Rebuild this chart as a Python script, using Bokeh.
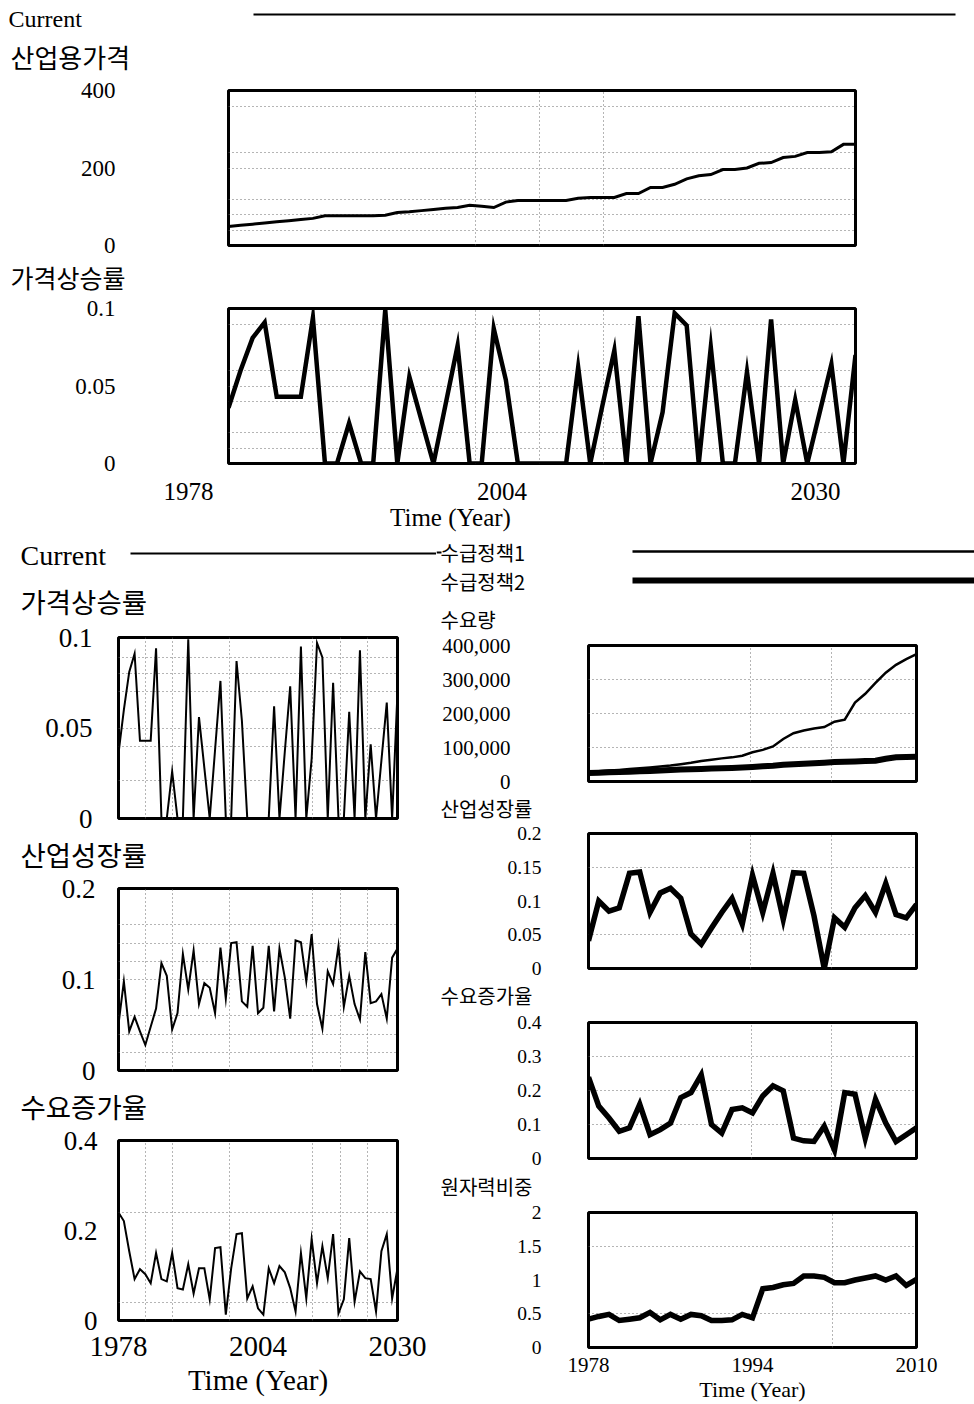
from bokeh.plotting import figure
from bokeh.models import (Range1d, FixedTicker, Label, LabelSet, ColumnDataSource,
                          BoxAnnotation, NumeralTickFormatter, LinearAxis, Grid)
from bokeh.layouts import column, row
from bokeh.embed import file_html
from bokeh.resources import INLINE
from bokeh.core.properties import value

SERIF = "Liberation Serif"
KR = "Noto Sans CJK KR"

# ---------------- data ----------------
years_long = list(range(1978, 2031))
years_short = list(range(1978, 2011))

price = [49, 52, 55, 58, 61, 64, 67, 70, 77, 77,
         77, 77, 77, 78, 85, 87, 90, 93, 96, 98,
         104, 101, 98, 112, 116, 116, 116, 116, 116, 122,
         124, 124, 124, 134, 134, 150, 150, 158, 172, 180,
         183, 196, 196, 200, 212, 214, 227, 230, 240, 240,
         242, 261, 261]

price_rate = [0.036, 0.060, 0.081, 0.091, 0.043, 0.043, 0.043, 0.094, 0.0, 0.0,
              0.026, 0.0, 0.0, 0.099, 0.0, 0.056, 0.028, 0.0, 0.038, 0.076,
              0.0, 0.0, 0.087, 0.054, 0.0, 0.0, 0.0, 0.0, 0.0, 0.062,
              0.0, 0.037, 0.073, 0.0, 0.095, 0.0, 0.033, 0.097, 0.089, 0.0,
              0.075, 0.0, 0.0, 0.059, 0.0, 0.093, 0.0, 0.041, 0.0, 0.032,
              0.064, 0.0, 0.07]

growth_long = [0.051, 0.098, 0.043, 0.059, 0.043, 0.028, 0.048, 0.068, 0.118, 0.104,
               0.045, 0.063, 0.128, 0.089, 0.132, 0.073, 0.096, 0.091, 0.063, 0.135,
               0.079, 0.14, 0.141, 0.076, 0.07, 0.137, 0.063, 0.069, 0.137, 0.065,
               0.134, 0.102, 0.057, 0.143, 0.141, 0.098, 0.15, 0.073, 0.046, 0.109,
               0.095, 0.137, 0.07, 0.104, 0.073, 0.056, 0.13, 0.074, 0.076, 0.084,
               0.057, 0.124, 0.134]

demand_rate_long = [0.24, 0.221, 0.154, 0.092, 0.114, 0.103, 0.083, 0.15, 0.092, 0.087,
                    0.15, 0.072, 0.069, 0.125, 0.06, 0.116, 0.116, 0.047, 0.161, 0.163,
                    0.013, 0.116, 0.192, 0.194, 0.049, 0.076, 0.027, 0.013, 0.116, 0.083,
                    0.121, 0.107, 0.072, 0.02, 0.15, 0.049, 0.181, 0.083, 0.165, 0.094,
                    0.192, 0.016, 0.047, 0.183, 0.042, 0.109, 0.094, 0.092, 0.02, 0.154,
                    0.192, 0.049, 0.116]

demand_policy1 = [28000, 30000, 32000, 34000, 36500, 39000, 41500, 44000, 47000, 51000,
                  55000, 60000, 64000, 68000, 71000, 76000, 86000, 93000, 103000, 125000,
                  142000, 150000, 156000, 160000, 176000, 182000, 232000, 258000, 290000, 320000,
                  343000, 360000, 375000]

demand_policy2 = [25000, 26000, 27000, 28000, 29000, 30000, 31000, 32000, 33500, 35000,
                  36000, 37000, 38000, 39000, 40000, 41500, 43000, 44500, 46000, 49000,
                  51000, 52500, 54000, 55500, 57000, 58000, 59000, 60000, 61000, 67000,
                  71000, 72000, 73000]

growth_short = [0.041, 0.1, 0.085, 0.09, 0.141, 0.143, 0.083, 0.112, 0.119, 0.104,
                0.051, 0.036, 0.06, 0.083, 0.104, 0.066, 0.138, 0.083, 0.141, 0.073,
                0.142, 0.141, 0.078, 0.0, 0.075, 0.061, 0.09, 0.108, 0.083, 0.126,
                0.08, 0.075, 0.095]

demand_rate_short = [0.239, 0.154, 0.119, 0.08, 0.09, 0.159, 0.07, 0.085, 0.104, 0.179,
                     0.194, 0.246, 0.1, 0.075, 0.144, 0.149, 0.134, 0.184, 0.214, 0.199,
                     0.06, 0.052, 0.05, 0.095, 0.025, 0.194, 0.189, 0.06, 0.174, 0.104,
                     0.05, 0.07, 0.09]

nuclear_share = [0.42, 0.46, 0.49, 0.40, 0.42, 0.44, 0.52, 0.41, 0.49, 0.42,
                 0.49, 0.47, 0.40, 0.40, 0.41, 0.49, 0.44, 0.87, 0.89, 0.93,
                 0.95, 1.06, 1.06, 1.04, 0.96, 0.96, 1.0, 1.03, 1.06, 1.0,
                 1.06, 0.92, 1.01]

top_xticks = [1978, 2004, 2030]
top_xtick_labels = ["1978", "2004", "2030"]
short_xticks = [1978, 1994, 2010]

GRID_COLOR = "#6a6a6a"


# ---------------- helpers ----------------
def make_panel(ox, oy, W, H, fl, ft, fw, fh, xr, yr, xgrid, ygrid):
    p = figure(width=W, height=H, x_range=Range1d(*xr), y_range=Range1d(*yr),
               output_backend="svg", toolbar_location=None, title_location=None,
               x_axis_location=None, y_axis_location=None, frame_align=False,
               min_border_left=fl - ox, min_border_top=ft - oy,
               min_border_right=W - (fl - ox) - fw,
               min_border_bottom=H - (ft - oy) - fh)
    p.center = [r for r in p.center if not isinstance(r, Grid)]
    p.outline_line_color = "black"
    p.outline_line_width = 3
    p.outline_line_alpha = 1
    p.background_fill_color = "white"
    p.border_fill_color = "white"
    p.add_layout(Grid(dimension=0, ticker=FixedTicker(ticks=xgrid),
                      grid_line_color=GRID_COLOR, grid_line_dash="1 3",
                      grid_line_width=1))
    p.add_layout(Grid(dimension=1, ticker=FixedTicker(ticks=ygrid),
                      grid_line_color=GRID_COLOR, grid_line_dash="1 3",
                      grid_line_width=1))
    return p


def make_strip(ox, oy, W, H):
    p = figure(width=W, height=H, x_range=Range1d(ox, ox + W),
               y_range=Range1d(-(oy + H), -oy),
               output_backend="svg", toolbar_location=None, title_location=None,
               x_axis_location=None, y_axis_location=None, frame_align=False,
               min_border_left=0, min_border_right=0,
               min_border_top=0, min_border_bottom=0)
    p.center = [r for r in p.center if not isinstance(r, Grid)]
    p.outline_line_color = None
    p.background_fill_color = "white"
    p.border_fill_color = "white"
    return p


def yaxis(p, ticks, standoff, size, overrides=None, formatter=None):
    ax = LinearAxis(ticker=FixedTicker(ticks=ticks))
    ax.axis_line_color = None
    ax.major_tick_line_color = None
    ax.minor_tick_line_color = None
    ax.major_tick_out = 0
    ax.major_tick_in = 0
    ax.major_label_standoff = standoff
    ax.major_label_text_font = SERIF
    ax.major_label_text_font_size = f"{size}px"
    ax.major_label_text_color = "black"
    if overrides:
        ax.major_label_overrides = overrides
    if formatter is not None:
        ax.formatter = formatter
    p.add_layout(ax, "left")


def xaxis(p, ticks, standoff, size, label, label_size, label_standoff):
    ax = LinearAxis(ticker=FixedTicker(ticks=ticks))
    ax.axis_line_color = None
    ax.major_tick_line_color = None
    ax.minor_tick_line_color = None
    ax.major_tick_out = 0
    ax.major_tick_in = 0
    ax.major_label_standoff = standoff
    ax.major_label_text_font = SERIF
    ax.major_label_text_font_size = f"{size}px"
    ax.major_label_text_color = "black"
    ax.axis_label = label
    ax.axis_label_text_font = SERIF
    ax.axis_label_text_font_size = f"{label_size}px"
    ax.axis_label_text_font_style = "normal"
    ax.axis_label_text_color = "black"
    ax.axis_label_standoff = label_standoff
    p.add_layout(ax, "below")


def put_text(p, s, px, py, size, font, align="left"):
    p.add_layout(Label(x=px, y=-py, text=s, text_font=font,
                       text_font_size=f"{size}px", text_align=align,
                       text_baseline="middle", text_color="black"))


def put_bar(p, x1, x2, y, w):
    p.add_layout(BoxAnnotation(left=x1, right=x2, bottom=-(y + w / 2), top=-(y - w / 2),
                               fill_color="black", fill_alpha=1, line_color=None))


def ov(vals):
    return {v: ("0" if v == 0 else f"{v:g}") for v in vals}


# ---------------- top section ----------------
S0 = make_strip(0, 0, 974, 76)
put_text(S0, "Current", 8, 18, 24, SERIF)
put_bar(S0, 253, 955, 14, 2)
put_text(S0, "산업용가격", 10, 56, 26, KR)

A1 = make_panel(0, 76, 974, 182, 228, 90, 627, 155, (1978, 2030), (0, 400),
                [1998.5, 2003.8, 2009.1], [40, 80, 120, 200, 240, 360])
A1.line(years_long, price, line_color="black", line_width=3, line_join="miter")
yaxis(A1, [0, 200, 400], 113, 23)

S1 = make_strip(0, 258, 974, 37)
put_text(S1, "가격상승률", 10, 276.5, 25, KR)

A2 = make_panel(0, 295, 974, 182, 228, 308, 627, 155, (1978, 2030), (0, 0.1),
                [1998.5, 2003.8, 2009.1], [0.01, 0.02, 0.04, 0.05, 0.06, 0.09])
A2.line(years_long, price_rate, line_color="black", line_width=4.5, line_join="miter")
yaxis(A2, [0, 0.05, 0.1], 113, 23, ov([0, 0.05, 0.1]))

S2 = make_strip(0, 477, 974, 58)
# year scale of the strip: the Vensim time labels sit ~40 px left of the frame ticks
k = 52 / 627
S2.extra_x_ranges = {"yr": Range1d(1978 - 188 * k, 1978 + (974 - 188) * k)}
src = ColumnDataSource(dict(x=top_xticks, y=[-491] * len(top_xticks), t=top_xtick_labels))
S2.add_layout(LabelSet(x="x", y="y", text="t", source=src, x_range_name="yr",
                       text_align="center", text_baseline="middle",
                       text_font=value(SERIF), text_font_size=value("25px"),
                       text_color="black"))
put_text(S2, "Time (Year)", 450, 517, 25, SERIF, "center")

# ---------------- bottom-left column ----------------
BLX = [1983, 1988, 1998.6, 2014.2, 2019.4, 2024.4]
L0 = make_strip(0, 535, 436, 86)
put_text(L0, "Current", 20, 555, 28, SERIF)
put_bar(L0, 130, 436, 553, 2)
put_text(L0, "가격상승률", 20, 600, 27.5, KR)

BL1 = make_panel(0, 621, 436, 212, 118, 637, 279, 181, (1978, 2030), (0, 0.1),
                 BLX, [0.021, 0.04, 0.05, 0.07, 0.08, 0.089])
BL1.line(years_long, price_rate, line_color="black", line_width=2, line_join="miter")
yaxis(BL1, [0, 0.05, 0.1], 26, 27, ov([0, 0.05, 0.1]))

L1 = make_strip(0, 833, 436, 40)
put_text(L1, "산업성장률", 20, 853, 27.5, KR)

BL2 = make_panel(0, 873, 436, 212, 118, 888, 279, 182, (1978, 2030), (0, 0.2),
                 BLX, [0.02, 0.04, 0.06, 0.1, 0.12, 0.14, 0.16])
BL2.line(years_long, growth_long, line_color="black", line_width=2, line_join="miter")
yaxis(BL2, [0, 0.1, 0.2], 23, 27, ov([0, 0.1, 0.2]))

L2 = make_strip(0, 1085, 436, 40)
put_text(L2, "수요증가율", 20, 1105, 27.5, KR)

BL3 = make_panel(0, 1125, 436, 279, 118, 1140, 279, 180, (1978, 2030), (0, 0.4),
                 BLX, [0.04, 0.24])
BL3.line(years_long, demand_rate_long, line_color="black", line_width=2, line_join="miter")
yaxis(BL3, [0, 0.2, 0.4], 21, 27, ov([0, 0.2, 0.4]))
xaxis(BL3, top_xticks, 16, 29, "Time (Year)", 29, 5)

# ---------------- bottom-right column ----------------
R0 = make_strip(436, 535, 538, 98)
put_bar(R0, 436, 441, 552, 2)
put_text(R0, "수급정책1", 440, 552, 20, KR)
put_bar(R0, 632, 974, 551, 2.5)
put_text(R0, "수급정책2", 440, 581, 20, KR)
put_bar(R0, 632, 974, 580, 6)
put_text(R0, "수요량", 440, 618.5, 20, KR)

BR1 = make_panel(436, 633, 538, 160, 588, 645, 328, 136, (1978, 2010), (0, 400000),
                 [1993.8, 2001.7], [100000, 200000, 300000])
BR1.line(years_short, demand_policy1, line_color="black", line_width=2.5, line_join="miter")
BR1.line(years_short, demand_policy2, line_color="black", line_width=6, line_join="miter")
yaxis(BR1, [0, 100000, 200000, 300000, 400000], 78, 21,
      formatter=NumeralTickFormatter(format="0,0"))

R1 = make_strip(436, 793, 538, 29)
put_text(R1, "산업성장률", 440, 807.5, 20, KR)

BR2 = make_panel(436, 822, 538, 158, 588, 833, 328, 135, (1978, 2010), (0, 0.2),
                 [1993.8, 2001.7], [0.05, 0.15])
BR2.line(years_short, growth_short, line_color="black", line_width=5.5, line_join="miter")
yaxis(BR2, [0, 0.05, 0.1, 0.15, 0.2], 47, 19.5, ov([0, 0.05, 0.1, 0.15, 0.2]))

R2 = make_strip(436, 980, 538, 30)
put_text(R2, "수요증가율", 440, 995, 20, KR)

BR3 = make_panel(436, 1010, 538, 160, 588, 1022, 328, 136, (1978, 2010), (0, 0.4),
                 [1993.9, 2001.7], [0.1, 0.2, 0.3])
BR3.line(years_short, demand_rate_short, line_color="black", line_width=5.5, line_join="miter")
yaxis(BR3, [0, 0.1, 0.2, 0.3, 0.4], 47, 19.5, ov([0, 0.1, 0.2, 0.3, 0.4]))

R3 = make_strip(436, 1170, 538, 31)
put_text(R3, "원자력비중", 440, 1186, 20, KR)

BR4 = make_panel(436, 1201, 538, 203, 588, 1212, 328, 135, (1978, 2010), (0, 2),
                 [2001.8], [0.5, 1.5])
BR4.line(years_short, nuclear_share, line_color="black", line_width=5.5, line_join="miter")
yaxis(BR4, [0, 0.5, 1, 1.5, 2], 47, 19.5, ov([0, 0.5, 1, 1.5, 2]))
xaxis(BR4, short_xticks, 10, 21, "Time (Year)", 22, 2)

layout = column(S0, A1, S1, A2, S2,
                row(column(L0, BL1, L1, BL2, L2, BL3),
                    column(R0, BR1, R1, BR2, R2, BR3, R3, BR4)))

open("out.html", "w").write(file_html(layout, INLINE))
